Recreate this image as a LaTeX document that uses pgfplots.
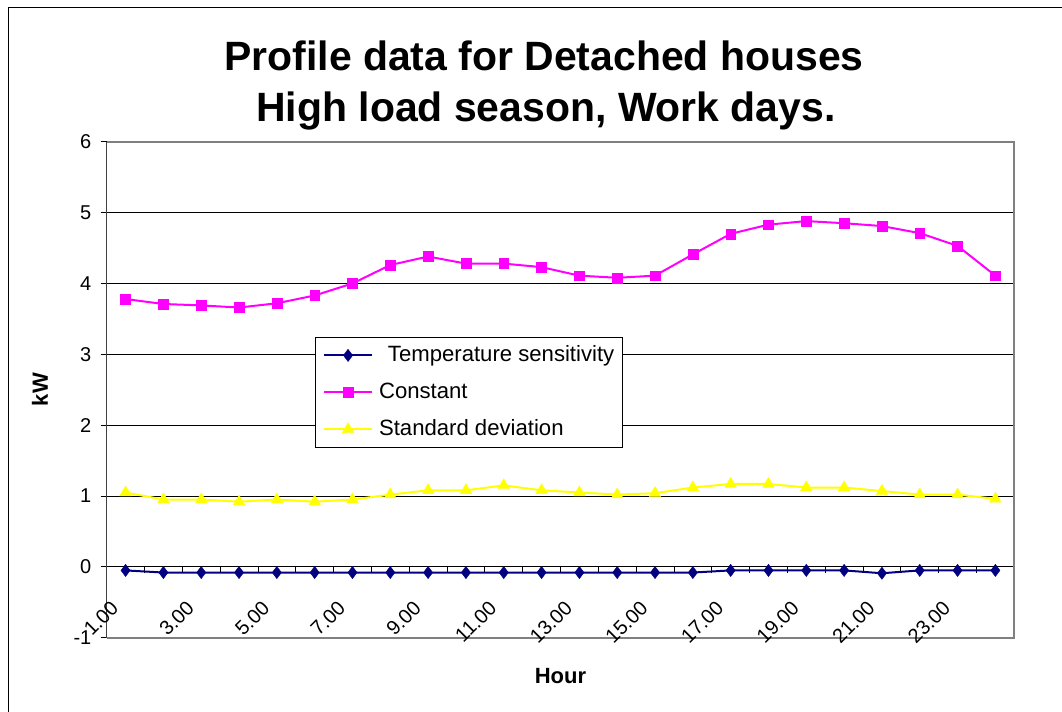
\documentclass[border=0pt]{standalone}
\usepackage{pgfplots}
\usepackage{pgfplotstable}
\pgfplotsset{compat=1.18}
\usepackage{fontspec}
\setmainfont{Liberation Sans}
\definecolor{navyc}{HTML}{000080}
\definecolor{magc}{HTML}{FF00FF}
\definecolor{yelc}{HTML}{FFFF00}
\definecolor{framegray}{HTML}{808080}
\definecolor{axdark}{HTML}{404040}
\newcommand{\tickfont}{\fontsize{15}{18}\selectfont}

\pgfplotstableread{
hour temp const sd
1 -0.05 3.78 1.05
2 -0.08 3.71 0.95
3 -0.08 3.69 0.95
4 -0.08 3.66 0.92
5 -0.08 3.72 0.95
6 -0.08 3.83 0.92
7 -0.08 4.00 0.95
8 -0.08 4.26 1.02
9 -0.08 4.38 1.08
10 -0.08 4.28 1.08
11 -0.08 4.28 1.15
12 -0.08 4.23 1.08
13 -0.08 4.11 1.05
14 -0.08 4.08 1.02
15 -0.08 4.11 1.04
16 -0.08 4.41 1.12
17 -0.05 4.70 1.17
18 -0.05 4.83 1.17
19 -0.05 4.88 1.12
20 -0.05 4.85 1.12
21 -0.09 4.81 1.07
22 -0.05 4.71 1.02
23 -0.05 4.53 1.02
24 -0.05 4.11 0.96
}\datatable

\begin{document}
\begin{tikzpicture}
\useasboundingbox (0,0) rectangle (796.5pt,534pt);
\draw[line width=1.1pt] (6.2pt,-20pt) rectangle (830pt,528.5pt);

% background axis: zero line with ticks, left axis line, y tick labels
\begin{axis}[
  at={(80pt,55.7pt)}, anchor=south west,
  scale only axis, width=680.7pt, height=372pt,
  xmin=0.5, xmax=24.5, ymin=-1, ymax=6, enlargelimits=false,
  axis x line=middle, axis y line=left,
  axis line style={-},
  x axis line style={black, line width=0.8pt},
  y axis line style={axdark, line width=1.2pt},
  hide obscured x ticks=false, hide obscured y ticks=false,
  xtick={0.5,1.5,...,24.5}, xticklabels={},
  ytick={-1,0,...,6}, yticklabels={-1,0,1,2,3,4,5,6},
  tick align=outside, major tick length=4.5pt,
  tick style={black, line width=0.6pt},
  yticklabel style={font=\tickfont, xshift=-3.5pt},
]
\end{axis}

% main axis
\begin{axis}[
  at={(80pt,55.7pt)}, anchor=south west,
  scale only axis, width=680.7pt, height=372pt,
  xmin=0.5, xmax=24.5, ymin=-1, ymax=6, enlargelimits=false,
  clip=false,
  axis line style={draw=none},
  xtick={1,3,...,23}, xticklabels={},
  xtick style={draw=none},
  ytick={1,2,...,5}, yticklabels={}, ytick style={draw=none},
  ymajorgrids, grid style={black, line width=0.6pt},
  xlabel={\bfseries Hour},
  xlabel style={at={(rel axis cs:0.5,-0.0772)}, anchor=center, font=\fontsize{16.5}{19}\selectfont},
  ylabel={\bfseries kW},
  ylabel style={at={(rel axis cs:-0.0735,0.5)}, anchor=center, font=\fontsize{16.5}{19}\selectfont},
  legend image code/.code={\draw[mark repeat=2,mark phase=2,#1] plot coordinates {(0pt,0pt) (18pt,0pt) (36pt,0pt)};},
  legend cell align=left,
  legend style={at={(rel axis cs:0.2295,0.6063)}, anchor=north west,
    draw=black, line width=0.6pt, fill=white, inner sep=5.75pt,
    row sep=12.25pt,
    font=\fontsize{16.6}{19}\selectfont,
    nodes={inner sep=0pt, text height=12pt, text depth=3.5pt},
    /tikz/every odd column/.append style={column sep=4.5pt}},
]
\draw[framegray, line width=1.2pt] (rel axis cs:0,1) -- (rel axis cs:1,1) -- (rel axis cs:1,0) -- (rel axis cs:0,0);
\pgfplotsinvokeforeach{1,3,...,23}{
  \node[font=\tickfont, inner sep=0pt, rotate=45, anchor=east] at ([xshift=-8pt, yshift=25pt]axis cs:#1,-1) {#1.00};
}
\addplot[navyc, line width=1.5pt, mark=diamond*, mark size=4.6pt, mark options={solid, fill=navyc, line width=0.3pt}] table[x=hour, y=temp] {\datatable};
\addlegendentry{\hspace{6.7pt}Temperature sensitivity}
\addplot[magc, line width=1.5pt, mark=square*, mark size=3.7pt, mark options={solid, fill=magc, line width=0.3pt}] table[x=hour, y=const] {\datatable};
\addlegendentry{Constant}
\addplot[yelc, line width=1.5pt, mark=triangle*, mark size=5pt, mark options={solid, fill=yelc, line width=0.3pt}] table[x=hour, y=sd] {\datatable};
\addlegendentry{Standard deviation}
\end{axis}

\node[font=\fontsize{30.7}{36}\selectfont\bfseries, anchor=base] at (408pt,480.75pt) {Profile data for Detached houses};
\node[font=\fontsize{30.7}{36}\selectfont\bfseries, anchor=base] at (409.5pt,442.5pt) {High load season, Work days.};
\end{tikzpicture}
\end{document}
